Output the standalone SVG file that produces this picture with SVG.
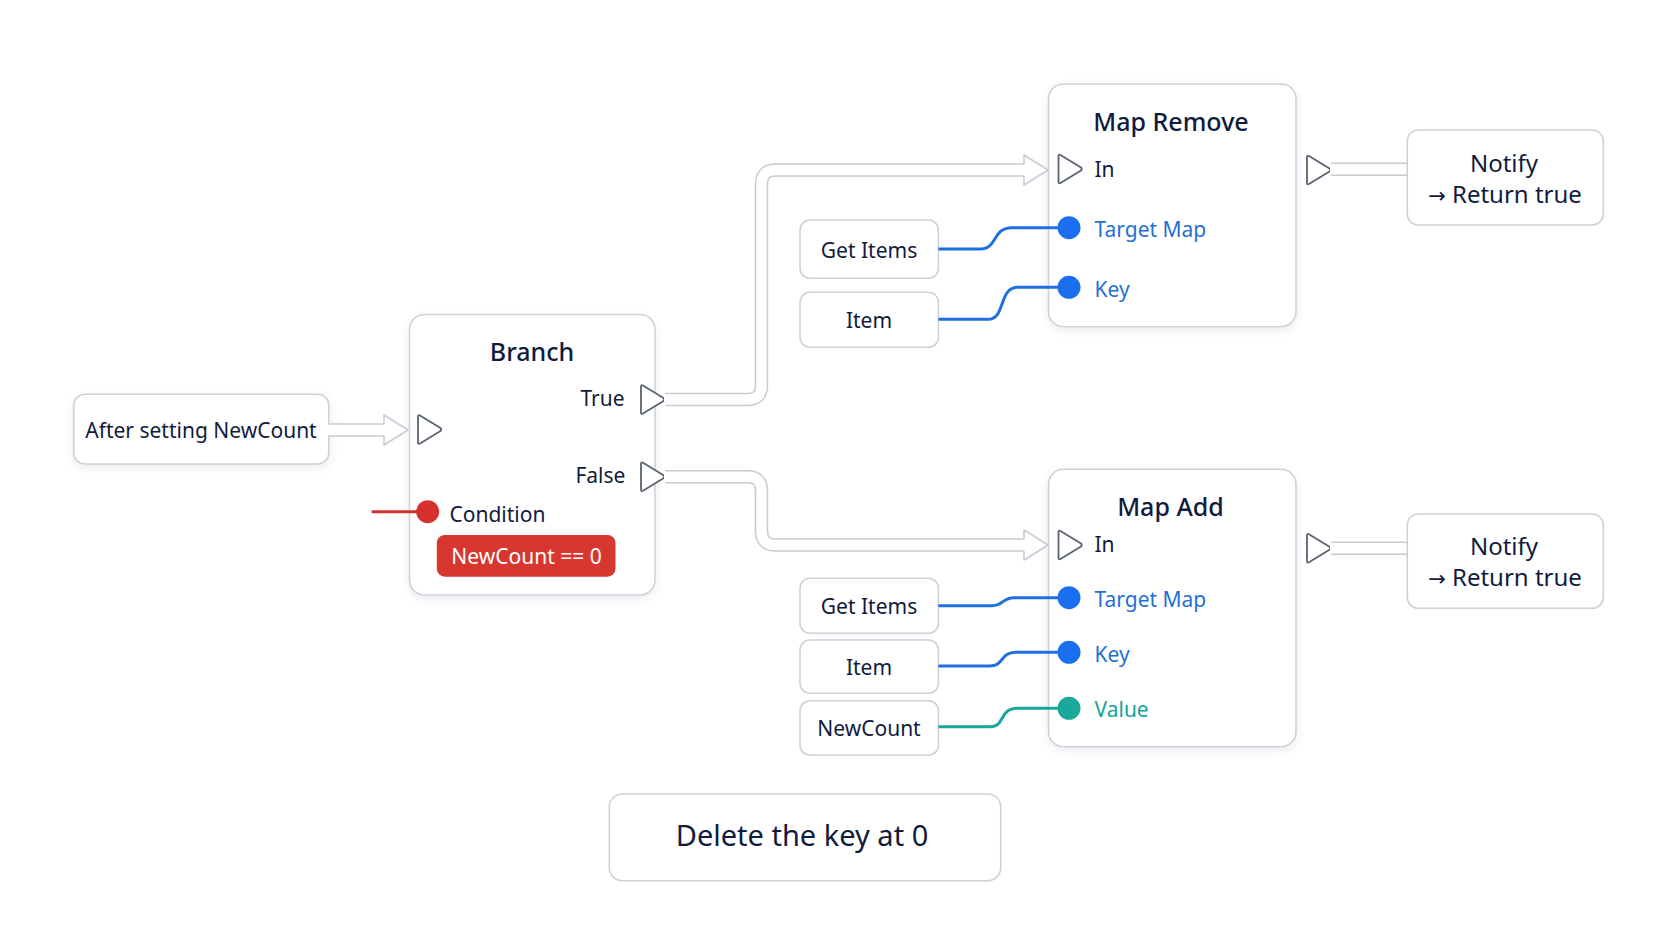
<svg xmlns="http://www.w3.org/2000/svg" width="1672" height="941" viewBox="0 0 1672 941">
<defs>
<style>
text{font-family:"Noto Sans","Open Sans","Liberation Sans",sans-serif;fill:#111b3d;}
.t{font-size:25px;text-anchor:middle;font-weight:500;}
.s{font-size:21px;}
.c{text-anchor:middle;}
.e{text-anchor:end;}
.n{font-size:24px;text-anchor:middle;}
.arr{font-family:"DejaVu Sans",sans-serif;font-size:21px;}
.blue{fill:#1f6fd6;}
.teal{fill:#16a394;}
.box{fill:#fff;stroke:#cdd2da;stroke-width:1.6;}
.port{fill:#fff;stroke:#5b6270;stroke-width:1.8;stroke-linejoin:round;}
.wo{fill:none;stroke:#c6cbd4;stroke-width:13.5;stroke-linejoin:round;}
.wi{fill:none;stroke:#fff;stroke-width:10.5;stroke-linejoin:round;}
.ah{fill:#fff;stroke:#c6cbd4;stroke-width:1.6;stroke-linejoin:round;}
.db{fill:none;stroke:#1f6fe0;stroke-width:3;}
.dt{fill:none;stroke:#17a89b;stroke-width:3;}
</style>
<filter id="sh" x="-10%" y="-10%" width="120%" height="125%">
<feDropShadow dx="0" dy="3" stdDeviation="4" flood-color="#1a2440" flood-opacity="0.08"/>
</filter>
<path id="exec" class="port" d="M0,-13 Q0,-15 2,-14 L22.5,-1.5 Q24,0 22.5,1.5 L2,14 Q0,15 0,13 Z"/>
</defs>
<rect width="1672" height="941" fill="#fff"/>

<g id="node-after">
<rect class="box" x="73.8" y="394.3" width="255" height="69.7" rx="11" filter="url(#sh)"/>
<text x="201" y="438" class="c" font-size="21">After setting NewCount</text>
</g>

<g id="node-branch">
<rect class="box" x="409.5" y="314.5" width="245.5" height="280.5" rx="15" filter="url(#sh)"/>
<text x="532" y="360.7" class="t">Branch</text>
<use href="#exec" x="418" y="429.5"/>
<text x="624.6" y="406" class="s e">True</text>
<use href="#exec" x="641" y="399.5"/>
<text x="625.4" y="483" class="s e">False</text>
<use href="#exec" x="641" y="476.7"/>
<circle cx="427.7" cy="511.7" r="11.5" fill="#d6302f"/>
<text x="449.5" y="521.7" class="s">Condition</text>
<rect x="436.8" y="535" width="178.7" height="41.7" rx="8" fill="#d7372f"/>
<text x="526.5" y="564" class="s c" style="fill:#fff">NewCount == 0</text>
</g>

<g id="node-map-remove">
<rect class="box" x="1048.5" y="84" width="247.5" height="242.7" rx="15" filter="url(#sh)"/>
<text x="1171" y="130.7" class="t">Map Remove</text>
<use href="#exec" x="1058.5" y="169"/>
<text x="1094.5" y="176.7" class="s">In</text>
<circle cx="1069" cy="227.7" r="11.5" fill="#1a6ef0"/>
<text x="1094.5" y="236.7" class="s blue">Target Map</text>
<circle cx="1069" cy="287.3" r="11.5" fill="#1a6ef0"/>
<text x="1094.5" y="296.7" class="s blue">Key</text>
<use href="#exec" x="1307" y="170"/>
</g>

<g id="node-mr-get-items">
<rect class="box" x="800" y="220" width="138.4" height="58.3" rx="10"/>
<text x="869" y="258.3" class="s c">Get Items</text>
</g>
<g id="node-mr-item">
<rect class="box" x="800" y="292.3" width="138.4" height="55" rx="10"/>
<text x="869" y="328.3" class="s c">Item</text>
</g>

<g id="node-map-add">
<rect class="box" x="1048.5" y="469.3" width="247.5" height="277.4" rx="15" filter="url(#sh)"/>
<text x="1170.5" y="516" class="t">Map Add</text>
<use href="#exec" x="1058.5" y="545"/>
<text x="1094.5" y="552.3" class="s">In</text>
<circle cx="1069" cy="597.7" r="11.5" fill="#1a6ef0"/>
<text x="1094.5" y="606.7" class="s blue">Target Map</text>
<circle cx="1069" cy="652.3" r="11.5" fill="#1a6ef0"/>
<text x="1094.5" y="661.7" class="s blue">Key</text>
<circle cx="1069" cy="708.3" r="11.5" fill="#1aa89b"/>
<text x="1094.5" y="716.7" class="s teal">Value</text>
<use href="#exec" x="1307" y="548.3"/>
</g>

<g id="node-ma-get-items">
<rect class="box" x="800" y="578.3" width="138.4" height="55" rx="10"/>
<text x="869" y="614" class="s c">Get Items</text>
</g>
<g id="node-ma-item">
<rect class="box" x="800" y="640" width="138.4" height="53.3" rx="10"/>
<text x="869" y="675" class="s c">Item</text>
</g>
<g id="node-ma-newcount">
<rect class="box" x="800" y="700.7" width="138.4" height="54.3" rx="10"/>
<text x="869" y="736" class="s c">NewCount</text>
</g>

<g id="node-notify-1">
<rect class="box" x="1407.3" y="130" width="196" height="95" rx="11"/>
<text x="1504" y="171.5" class="n">Notify</text>
<text x="1505" y="202.5" class="n"><tspan class="arr">→</tspan> Return true</text>
</g>
<g id="node-notify-2">
<rect class="box" x="1407.3" y="514" width="196" height="94.3" rx="11"/>
<text x="1504" y="554.5" class="n">Notify</text>
<text x="1505" y="585.5" class="n"><tspan class="arr">→</tspan> Return true</text>
</g>

<g id="node-note">
<rect class="box" x="609.3" y="794" width="391.4" height="86.7" rx="13"/>
<text x="802" y="846" class="c" font-size="29">Delete the key at 0</text>
</g>

<g id="connectors">
<path class="wo" d="M329.5 430 H386"/>
<path class="wi" d="M328 430 H387"/>
<path class="ah" d="M384 424 V415 L408 430 L384 445 V436"/>
<path class="wo" d="M665 399.5 H747.5 Q761.5 399.5 761.5 385.5 V184 Q761.5 170 775.5 170 H1026"/>
<path class="wi" d="M664 399.5 H747.5 Q761.5 399.5 761.5 385.5 V184 Q761.5 170 775.5 170 H1027"/>
<path class="ah" d="M1024 164 V155 L1048 170 L1024 185 V176"/>
<path class="wo" d="M665 476.7 H747.5 Q761.5 476.7 761.5 490.7 V531 Q761.5 545 775.5 545 H1026"/>
<path class="wi" d="M664 476.7 H747.5 Q761.5 476.7 761.5 490.7 V531 Q761.5 545 775.5 545 H1027"/>
<path class="ah" d="M1024 539 V530 L1048 545 L1024 560 V551"/>
<path class="wo" d="M1331 169.2 H1407.3"/>
<path class="wi" d="M1330 169.2 H1406.5"/>
<path class="wo" d="M1331 548.3 H1407.3"/>
<path class="wi" d="M1330 548.3 H1406.5"/>
<path d="M371.6 511.7 H425" stroke="#d32f2f" stroke-width="3" fill="none"/>
<path class="db" d="M938.4 249 H980 C998 249 992 227.7 1012 227.7 H1066"/>
<path class="db" d="M938.4 319.3 H988 C1006 319.3 998 287.3 1018 287.3 H1066"/>
<path class="db" d="M938.4 605.7 H992 C1004 605.7 1002 597.7 1014 597.7 H1066"/>
<path class="db" d="M938.4 666 H990 C1004 666 1000 652.3 1016 652.3 H1066"/>
<path class="dt" d="M938.4 726.7 H990 C1006 726.7 998 708.3 1018 708.3 H1066"/>
</g>
</svg>
